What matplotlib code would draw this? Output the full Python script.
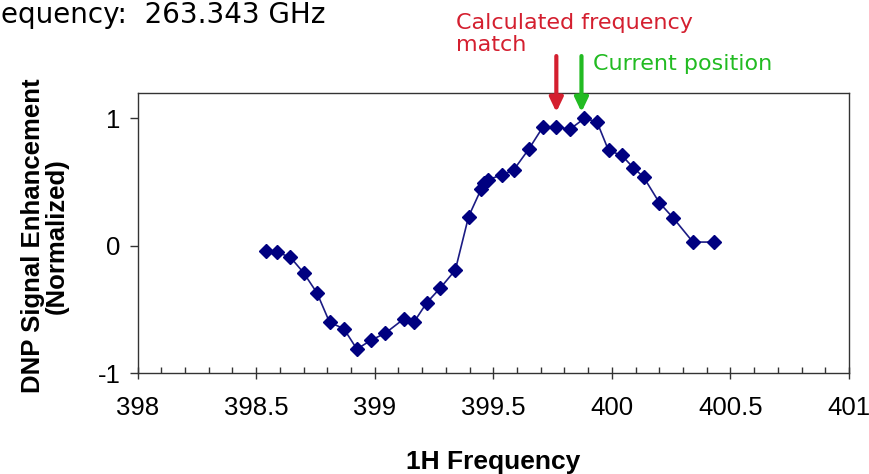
import numpy as np
import matplotlib
matplotlib.use('Agg')
import matplotlib.pyplot as plt
from matplotlib.ticker import MultipleLocator

plt.rcParams['axes.unicode_minus'] = False

# values
freq = [398.54, 398.59, 398.645, 398.70, 398.757, 398.81, 398.87, 398.925, 398.985,
        399.045, 399.125, 399.165, 399.22, 399.277, 399.34, 399.396, 399.45, 399.462,
        399.478, 399.537, 399.586, 399.65, 399.71, 399.765, 399.825, 399.884, 399.937,
        399.986, 400.042, 400.09, 400.134, 400.20, 400.26, 400.342, 400.43]
enhancement = [-0.04, -0.05, -0.09, -0.21, -0.37, -0.60, -0.65, -0.81, -0.74,
               -0.685, -0.57, -0.60, -0.445, -0.33, -0.19, 0.23, 0.45, 0.49,
               0.52, 0.557, 0.596, 0.76, 0.935, 0.93, 0.918, 1.0, 0.975,
               0.75, 0.71, 0.615, 0.54, 0.34, 0.217, 0.03, 0.03]
calc_match = 399.766
current_pos = 399.872
y_ticks = [-1, 0, 1]
x_ticks = [398, 398.5, 399, 399.5, 400, 400.5, 401]
# the reference crops the start of this header, only this part is visible
header = "equency:  263.343 GHz"

W, H = 869, 474
fig = plt.figure(figsize=(W / 100, H / 100), dpi=100)
ax = fig.add_axes([137.5 / W, 1 - 373.3 / H, (849 - 137.5) / W, (373.3 - 93) / H])

ax.plot(freq, enhancement, color='#1c1c84', lw=1.2, marker='D', ms=7.5,
        mfc='#000080', mec='#000080', zorder=3)

ax.set_xlim(398, 401)
ax.set_ylim(-1, 1.2)
ax.set_xticks(x_ticks)
ax.set_xticklabels([f"{t:g}" for t in x_ticks])
ax.set_yticks(y_ticks)
ax.xaxis.set_minor_locator(MultipleLocator(0.1))

for sp in ax.spines.values():
    sp.set_color('#333333')
    sp.set_linewidth(1.0)

for lab in ax.get_xticklabels() + ax.get_yticklabels():
    lab.set_fontfamily('Liberation Sans')
    lab.set_fontsize(18.5)
ax.tick_params(axis='x', which='major', direction='inout', length=8, width=1.0,
               color='#333333', pad=12)
ax.tick_params(axis='x', which='minor', direction='in', length=4, width=1.0,
               color='#333333')
ax.tick_params(axis='y', which='major', direction='out', length=6, width=1.0,
               color='#333333', pad=6)

ax.set_xlabel("1H Frequency", fontfamily='Liberation Sans', fontsize=19,
              fontweight='bold')
ax.xaxis.set_label_coords(0.5, -0.318)
ax.xaxis.label.set_va('center')
ax.set_ylabel("DNP Signal Enhancement\n(Normalized)", fontfamily='Liberation Sans',
              fontsize=18.5, fontweight='bold', linespacing=1.0)
ax.yaxis.set_label_coords(-0.13, 0.49)
ax.yaxis.label.set_va('center')

# arrows above the peak
red = '#d41f2f'
green = '#22bb22'
for x0, c in [(calc_match, red), (current_pos, green)]:
    ax.annotate('', xy=(x0, 1.05), xytext=(x0, 1.49), annotation_clip=False,
                arrowprops=dict(arrowstyle='-|>,head_length=0.42,head_width=0.2',
                                mutation_scale=20, lw=3, color=c,
                                shrinkA=0, shrinkB=0))

fig.text(456 / W, 1 - 13 / H, "Calculated frequency\nmatch", color=red,
         fontfamily='DejaVu Sans', fontsize=16, va='top', ha='left', linespacing=1.12)
fig.text(593 / W, 1 - 70 / H, "Current position", color=green,
         fontfamily='DejaVu Sans', fontsize=16, va='baseline', ha='left')
fig.text(1 / W, 1 - 23 / H, header, color='black', fontfamily='DejaVu Sans',
         fontsize=20, va='baseline', ha='left')

fig.savefig('out.png', dpi=100)
